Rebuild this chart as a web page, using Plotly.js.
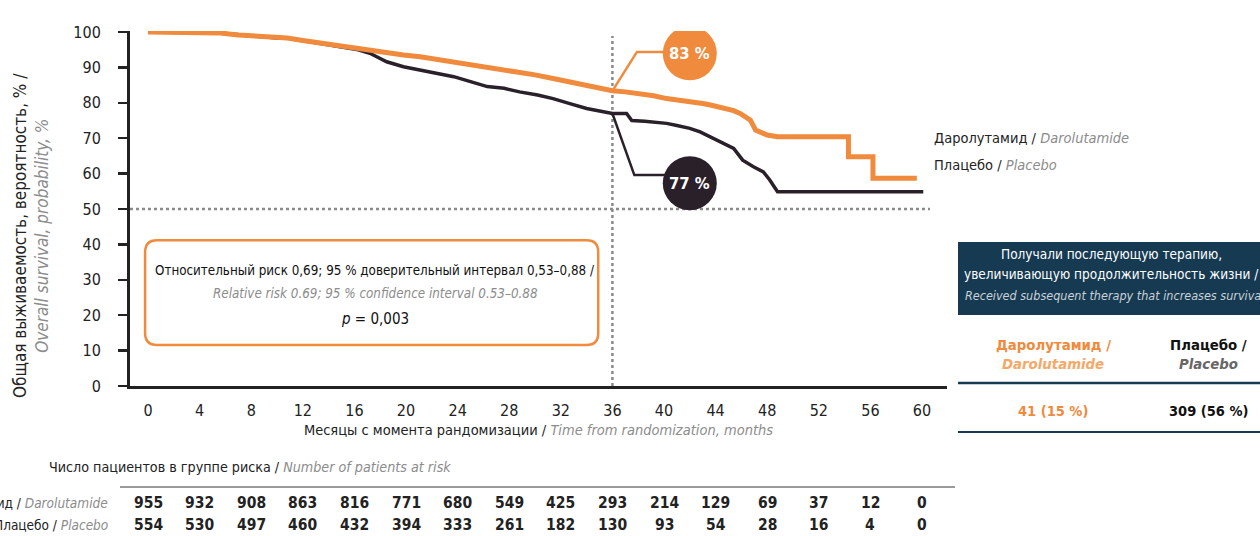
<!DOCTYPE html>
<html><head><meta charset="utf-8">
<script src="https://cdn.plot.ly/plotly-3.0.1.min.js"></script>
<style>html,body{margin:0;padding:0;background:#fff;overflow:hidden}#chart{width:1260px;height:536px}</style>
</head><body><div id="chart"></div>
<script>
// ---- data ----
const tickMonths = [0,4,8,12,16,20,24,28,32,36,40,44,48,52,56,60];
const riskDaro = [955,932,908,863,816,771,680,549,425,293,214,129,69,37,12,0];
const riskPlac = [554,530,497,460,432,394,333,261,182,130,93,54,28,16,4,0];

const daroT = [0,2,4,5.6,7,8.5,10,10.8,12,13.3,14.5,15.9,17,18.5,19.8,21.1,22.4,23.7,25,26.3,27.6,28.8,30,31.4,32.7,34,35,36,37,38.1,39.2,40.2,41.2,42.2,43,43.6,44.3,44.9,45.4,45.9,46.3,46.7,47.1,47.5,48,48.8,54.3,54.3,56.2,56.2,59.6];
const daroS = [100,100,99.8,99.7,99.2,98.8,98.3,98.3,97.6,96.9,96.2,95.5,94.8,94,93.5,93,92.3,91.6,90.9,90.2,89.5,88.8,87.9,86.9,86,85,84.2,83.4,83.1,82.7,82,81.2,80.8,80.3,79.8,79.4,78.9,78.4,77.8,77,76,75.1,72.3,71.5,70.9,70.4,70.4,64.8,64.8,58.7,58.7];

const placT = [0,2,4,5.6,7,8.5,10,10.8,12,13.3,14.5,15.4,16.3,17.2,18.5,19.8,21.1,22.4,23.7,25,26.3,27.6,28.8,30.2,31.4,32.7,34,35.3,36,37.1,37.5,38.5,40.2,41,42,42.8,43.6,44.3,45.4,46.1,46.9,47.7,48.2,48.8,60.1];
const placS = [100,100,99.8,99.7,99.2,98.8,98.3,98.3,97.6,96.9,96.2,95.7,95,94,91.6,90.2,89.3,88.3,87.4,86,84.6,84.1,83.1,82.2,81.2,79.8,78.4,77.5,77,77,75,74.8,74.2,73.6,72.8,71.8,70.4,69,67.1,63.8,62,60.5,58.2,54.9,54.9];

const landmark = 36;
const labelDaro = '83 %';
const labelPlac = '77 %';

// ---- style ----
const FONT = 'DejaVu Sans Condensed, Liberation Sans Narrow, sans-serif';
const ORANGE = '#f08a3c';
const LORANGE = '#f6a868';
const DARK = '#2a2029';
const GREY = '#8c8c8c';
const NAVY = '#163a52';

function valueAt(T, S, t){ let v = S[0]; for(let i=0;i<T.length;i++){ if(T[i]<=t) v=S[i]; } return v; }
const d36 = valueAt(daroT, daroS, landmark);
const p36 = valueAt(placT, placS, landmark);

const traces = [
  {x: placT, y: placS, type:'scatter', mode:'lines', line:{shape:'linear', color:DARK, width:3.5}, hoverinfo:'skip', name:'Плацебо'},
  {x: daroT, y: daroS, type:'scatter', mode:'lines', line:{shape:'linear', color:ORANGE, width:5}, hoverinfo:'skip', name:'Даролутамид'}
];

// plot area pixels: x 130..947, y 31..386
const pyToPaper = py => (386-py)/355;
const pxToPaper = px => (px-130)/817;

const ann = [];
function A(o){ ann.push(Object.assign({showarrow:false, xanchor:'center', yanchor:'middle', font:{family:FONT, size:15, color:'#222'}}, o)); }

// y title
A({xref:'paper', yref:'paper', x:pxToPaper(31), y:pyToPaper(236), textangle:-90,
   text:'Общая выживаемость, вероятность, % /<br><i><span style="color:'+GREY+'">Overall survival, probability, %</span></i>',
   font:{family:FONT, size:17, color:'#222'}});

// callout labels
A({xref:'x', yref:'y', x:42, y:94, text:'<b>'+labelDaro+'</b>', font:{family:FONT, size:16.5, color:'#fff'}});
A({xref:'x', yref:'y', x:42, y:57.3, text:'<b>'+labelPlac+'</b>', font:{family:FONT, size:16.5, color:'#fff'}});

// legend text at right
A({xref:'paper', yref:'paper', x:pxToPaper(932), y:pyToPaper(138), xanchor:'left',
   text:'Даролутамид / <i><span style="color:'+GREY+'">Darolutamide</span></i>', font:{family:FONT, size:14.5, color:'#222'}});
A({xref:'paper', yref:'paper', x:pxToPaper(932), y:pyToPaper(165), xanchor:'left',
   text:'Плацебо / <i><span style="color:'+GREY+'">Placebo</span></i>', font:{family:FONT, size:14.5, color:'#222'}});

// stats box text
A({xref:'paper', yref:'paper', x:pxToPaper(375), y:pyToPaper(270), text:'Относительный риск 0,69; 95 % доверительный интервал 0,53–0,88 /', font:{family:FONT, size:13.3, color:'#111'}});
A({xref:'paper', yref:'paper', x:pxToPaper(375), y:pyToPaper(293), text:'<i>Relative risk 0.69; 95 % confidence interval 0.53–0.88</i>', font:{family:FONT, size:13.3, color:GREY}});
A({xref:'paper', yref:'paper', x:pxToPaper(375), y:pyToPaper(319), text:'<i>p</i> = 0,003', font:{family:FONT, size:15, color:'#111'}});

// right panel
const cx = pxToPaper(1111);
A({xref:'paper', yref:'paper', x:cx, y:pyToPaper(254), text:'Получали последующую терапию,', font:{family:FONT, size:13.5, color:'#fff'}});
A({xref:'paper', yref:'paper', x:cx, y:pyToPaper(274), text:'увеличивающую продолжительность жизни /', font:{family:FONT, size:13.5, color:'#fff'}});
A({xref:'paper', yref:'paper', x:pxToPaper(963), xanchor:'left', y:pyToPaper(295), text:'<i>Received subsequent therapy that increases survival</i>', font:{family:FONT, size:12.5, color:'#c9d0d6'}});
A({xref:'paper', yref:'paper', x:pxToPaper(1053), y:pyToPaper(344), text:'<b>Даролутамид /</b>', font:{family:FONT, size:14.8, color:ORANGE}});
A({xref:'paper', yref:'paper', x:pxToPaper(1053), y:pyToPaper(363), text:'<b><i>Darolutamide</i></b>', font:{family:FONT, size:14.8, color:LORANGE}});
A({xref:'paper', yref:'paper', x:pxToPaper(1208), y:pyToPaper(344), text:'<b>Плацебо /</b>', font:{family:FONT, size:14.8, color:'#111'}});
A({xref:'paper', yref:'paper', x:pxToPaper(1208), y:pyToPaper(363), text:'<b><i>Placebo</i></b>', font:{family:FONT, size:14.8, color:'#666'}});
A({xref:'paper', yref:'paper', x:pxToPaper(1053), y:pyToPaper(411), text:'<b>41 (15 %)</b>', font:{family:FONT, size:14.5, color:ORANGE}});
A({xref:'paper', yref:'paper', x:pxToPaper(1208), y:pyToPaper(411), text:'<b>309 (56 %)</b>', font:{family:FONT, size:14.5, color:'#111'}});

// risk table
A({xref:'paper', yref:'paper', x:pxToPaper(47), xanchor:'left', y:pyToPaper(467),
   text:'Число пациентов в группе риска / <i><span style="color:'+GREY+'">Number of patients at risk</span></i>', font:{family:FONT, size:14.2, color:'#222'}});
A({xref:'paper', yref:'paper', x:pxToPaper(110), xanchor:'right', y:pyToPaper(503),
   text:'Даролутамид / <i><span style="color:'+GREY+'">Darolutamide</span></i>', font:{family:FONT, size:13.5, color:'#222'}});
A({xref:'paper', yref:'paper', x:pxToPaper(110), xanchor:'right', y:pyToPaper(525),
   text:'Плацебо / <i><span style="color:'+GREY+'">Placebo</span></i>', font:{family:FONT, size:13.5, color:'#222'}});
tickMonths.forEach((m,i)=>{
  A({xref:'x', yref:'paper', x:m, y:pyToPaper(503), text:'<b>'+riskDaro[i]+'</b>', font:{family:FONT, size:15.5, color:'#222'}});
  A({xref:'x', yref:'paper', x:m, y:pyToPaper(525), text:'<b>'+riskPlac[i]+'</b>', font:{family:FONT, size:15.5, color:'#222'}});
});

// shapes
const dotLine = {color:'#8a8a8a', width:2.5, dash:'3px,3px'};
const shapes = [
  {type:'line', xref:'paper', yref:'y', x0:0, x1:pxToPaper(930), y0:50, y1:50, line:dotLine, layer:'below'},
  {type:'line', xref:'x', yref:'paper', x0:landmark, x1:landmark, y0:0, y1:pyToPaper(36), line:dotLine, layer:'below'},
  // stats box (rounded)
  {type:'path', xref:'x', yref:'y', layer:'above', fillcolor:'rgba(255,255,255,0)',
   line:{color:ORANGE, width:2.5},
   path:'M 0.7,41.2 L 34,41.2 Q 34.9,41.2 34.9,37.8 L 34.9,15 Q 34.9,11.6 34,11.6 L 0.7,11.6 Q -0.23,11.6 -0.23,15 L -0.23,37.8 Q -0.23,41.2 0.7,41.2 Z'},
  // callout lines
  {type:'path', xref:'x', yref:'y', layer:'above', line:{color:ORANGE, width:2.5},
   path:'M '+landmark+','+d36+' L 37.9,94.4 L 42,94.4'},
  {type:'path', xref:'x', yref:'y', layer:'above', line:{color:DARK, width:2.5},
   path:'M '+landmark+','+p36+' L 37.7,59.6 L 42,59.6'},
  {type:'circle', xref:'x', yref:'y', xsizemode:'pixel', ysizemode:'pixel', xanchor:42, yanchor:94,
   x0:-27, x1:27, y0:-27, y1:27, fillcolor:ORANGE, line:{width:0}, layer:'above'},
  {type:'circle', xref:'x', yref:'y', xsizemode:'pixel', ysizemode:'pixel', xanchor:42, yanchor:57.3,
   x0:-27, x1:27, y0:-27, y1:27, fillcolor:DARK, line:{width:0}, layer:'above'},
  // right panel
  {type:'rect', xref:'paper', yref:'paper', x0:pxToPaper(958), x1:pxToPaper(1262), y0:pyToPaper(315), y1:pyToPaper(242), fillcolor:NAVY, line:{width:0}},
  {type:'line', xref:'paper', yref:'paper', x0:pxToPaper(958), x1:pxToPaper(1262), y0:pyToPaper(383), y1:pyToPaper(383), line:{color:NAVY, width:2.5}},
  {type:'line', xref:'paper', yref:'paper', x0:pxToPaper(958), x1:pxToPaper(1262), y0:pyToPaper(432), y1:pyToPaper(432), line:{color:NAVY, width:2}},
  // risk table rule
  {type:'line', xref:'paper', yref:'paper', x0:pxToPaper(120), x1:pxToPaper(955), y0:pyToPaper(487), y1:pyToPaper(487), line:{color:'#9a9a9a', width:2}}
];

const layout = {
  width:1260, height:536,
  margin:{l:130, r:313, t:31, b:150},
  paper_bgcolor:'#fff', plot_bgcolor:'#fff',
  showlegend:false,
  font:{family:FONT, size:16, color:'#222'},
  xaxis:{range:[-1.4, 61.94], tickvals:tickMonths, ticktext:tickMonths.map(String), showgrid:false, zeroline:false,
         showline:true, linecolor:'#222', linewidth:3, ticks:'', ticklabelstandoff:8,
         tickfont:{family:FONT, size:16, color:'#222'},
         title:{text:'Месяцы с момента рандомизации / <i><span style="color:'+GREY+'">Time from randomization, months</span></i>',
                font:{family:FONT, size:14.5, color:'#222'}, standoff:6}},
  yaxis:{range:[0,100.3], tickvals:[0,10,20,30,40,50,60,70,80,90,100], showgrid:false, zeroline:false,
         showline:true, linecolor:'#222', linewidth:3, ticks:'outside', ticklen:9, tickwidth:2.5, tickcolor:'#222',
         ticklabelstandoff:14, tickfont:{family:FONT, size:16, color:'#222'}},
  shapes: shapes,
  annotations: ann
};

Plotly.newPlot('chart', traces, layout, {displayModeBar:false, staticPlot:true});
</script></body></html>
